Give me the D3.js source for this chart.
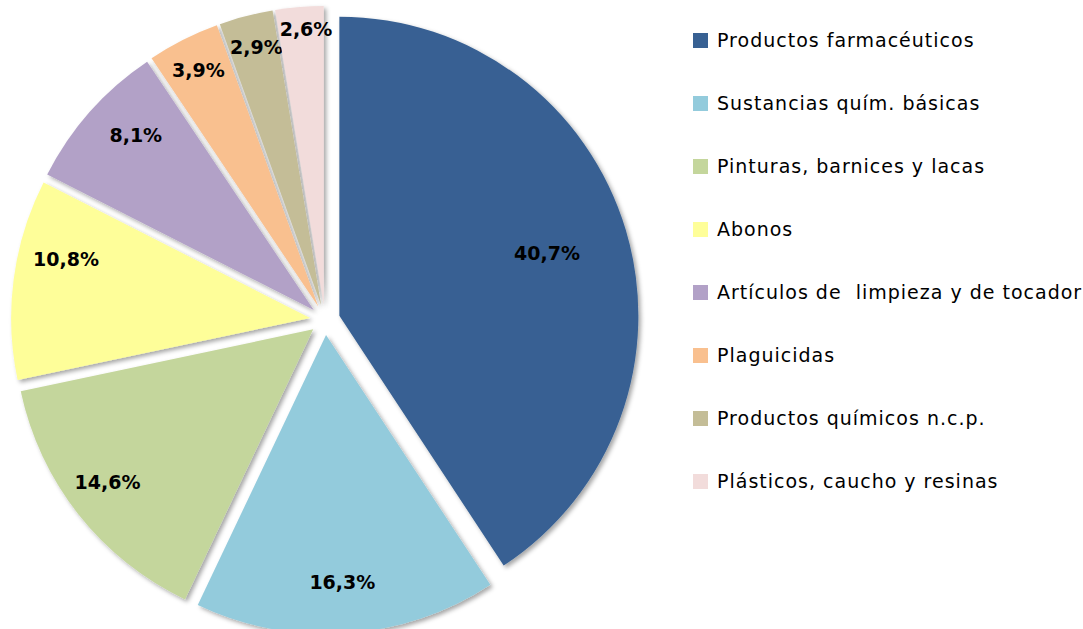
<!DOCTYPE html>
<html><head><meta charset="utf-8">
<script src="https://cdn.jsdelivr.net/npm/d3@7"></script>
<style>body{margin:0;background:#fff}svg{display:block}</style>
</head><body><div id="chart"></div>
<script>
const categories = ["Productos farmacéuticos","Sustancias quím. básicas","Pinturas, barnices y lacas","Abonos","Artículos de  limpieza y de tocador","Plaguicidas","Productos químicos n.c.p.","Plásticos, caucho y resinas"];
const values = [40.7,16.3,14.6,10.8,8.1,3.9,2.9,2.6];
const valueLabels = ["40,7%","16,3%","14,6%","10,8%","8,1%","3,9%","2,9%","2,6%"];
const colors = ["#386193","#93CBDC","#C4D69C","#FEFE99","#B2A1C7","#F9C08F","#C4BD97","#F2DCDB"];
// label placement (layout only): radius fraction and angle shift in degrees
const labelRadius = [0.725,0.83,0.858,0.84,0.835,0.888,0.89,0.925];
const labelShift = [0,0.2,1.6,6.1,3.0,0,0.5,1.0];

const W=1083,H=629;
const svg=d3.select("#chart").append("svg").attr("width",W).attr("height",H);
const defs=svg.append("defs");
const f=defs.append("filter").attr("id","sh").attr("x","-20%").attr("y","-20%").attr("width","140%").attr("height","140%");
f.append("feDropShadow").attr("dx",2.5).attr("dy",2.5).attr("stdDeviation",2).attr("flood-color","#000").attr("flood-opacity",0.35);

const cx=325, cy=320, R=299, off=15;
const pie=d3.pie().sort(null).value(d=>d)(values);
const arc=d3.arc().innerRadius(0).outerRadius(R);
const g=svg.append("g").attr("transform",`translate(${cx},${cy})`);
const sl=g.selectAll("g.s").data(pie).join("g").attr("class","s")
  .attr("transform",d=>{const a=(d.startAngle+d.endAngle)/2;return `translate(${off*Math.sin(a)},${-off*Math.cos(a)})`;});
sl.append("path").attr("d",arc).attr("fill",(d,i)=>colors[i]).attr("filter","url(#sh)");
sl.append("text").attr("transform",(d,i)=>{const a=(d.startAngle+d.endAngle)/2+labelShift[i]*Math.PI/180,r=R*labelRadius[i];return `translate(${r*Math.sin(a)},${-r*Math.cos(a)})`;})
  .attr("text-anchor","middle").attr("dy","0.36em")
  .style("font-family","DejaVu Sans").style("font-size","19px").style("font-weight","bold").attr("fill","#000")
  .text((d,i)=>valueLabels[i]);

const lg=svg.append("g");
const items=lg.selectAll("g").data(categories).join("g").attr("transform",(d,i)=>`translate(693,${40+i*63})`);
items.append("rect").attr("x",0).attr("y",-7).attr("width",15).attr("height",15).attr("fill",(d,i)=>colors[i]);
items.append("text").attr("x",24).attr("y",0).attr("dy","0.36em").style("font-family","DejaVu Sans").style("font-size","19px").style("letter-spacing","1px").attr("fill","#000").style("white-space","pre").attr("xml:space","preserve").text(d=>d);
</script></body></html>
